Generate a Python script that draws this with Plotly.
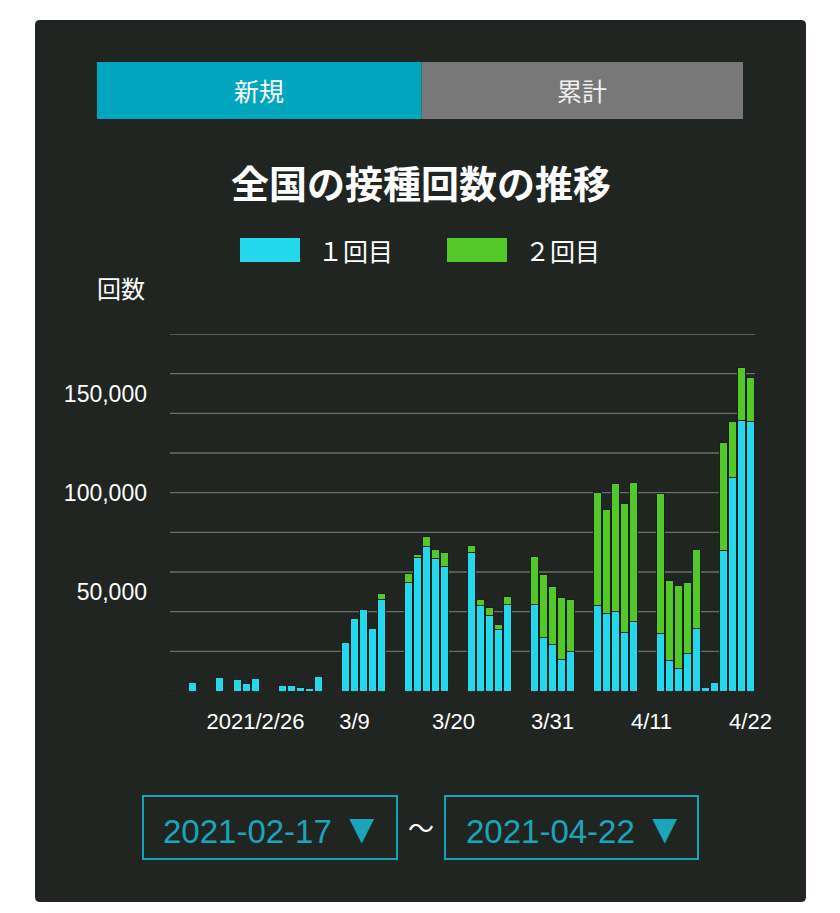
import plotly.graph_objects as go

# daily vaccinations (1st dose / 2nd dose)
dates = [
    "2021-02-17", "2021-02-19", "2021-02-22", "2021-02-24", "2021-02-25", "2021-02-26",
    "2021-03-01", "2021-03-02", "2021-03-03", "2021-03-04", "2021-03-05",
    "2021-03-08", "2021-03-09", "2021-03-10", "2021-03-11", "2021-03-12",
    "2021-03-15", "2021-03-16", "2021-03-17", "2021-03-18", "2021-03-19",
    "2021-03-22", "2021-03-23", "2021-03-24", "2021-03-25", "2021-03-26",
    "2021-03-29", "2021-03-30", "2021-03-31", "2021-04-01", "2021-04-02",
    "2021-04-05", "2021-04-06", "2021-04-07", "2021-04-08", "2021-04-09",
    "2021-04-12", "2021-04-13", "2021-04-14", "2021-04-15", "2021-04-16",
    "2021-04-17", "2021-04-18", "2021-04-19", "2021-04-20", "2021-04-21", "2021-04-22",
]
first_dose = [
    125, 4200, 6700, 5700, 3700, 6400,
    2900, 2700, 2000, 1500, 7100,
    24400, 36500, 41100, 31500, 46000,
    54700, 67200, 72900, 66800, 62800,
    69700, 43300, 38200, 31000, 43600,
    43600, 26800, 23700, 15700, 19700,
    43100, 39200, 40100, 29600, 35200,
    29100, 15500, 11400, 18900, 31300,
    2000, 4200, 71000, 107700, 136400, 136000,
]
second_dose = [
    0, 0, 0, 0, 0, 0,
    0, 0, 0, 0, 0,
    0, 0, 0, 700, 3000,
    4700, 1500, 5200, 4400, 7100,
    3900, 2900, 3700, 2700, 4000,
    24100, 32000, 28900, 31300, 26600,
    56900, 52200, 64500, 65000, 69700,
    70400, 40100, 41600, 36000, 40200,
    0, 0, 54400, 28100, 26800, 21900,
]

x_tick_dates = ["2021-02-26", "2021-03-09", "2021-03-20", "2021-03-31", "2021-04-11", "2021-04-22"]
x_tick_text = ["2021/2/26", "3/9", "3/20", "3/31", "4/11", "4/22"]
y_tick_vals = [50000, 100000, 150000]
grid_vals = list(range(20000, 200000, 20000))

CYAN = "#22d8ea"
GREEN = "#52c928"
PANEL = "#212522"
TEAL = "#00a6be"
JP = "Noto Sans CJK JP"
LAT = "Liberation Sans, Noto Sans CJK JP"

# plot area in pixels
L, R, T, B = 170, 755, 334, 691


def px(x):
    return (x - L) / (R - L)


def py(y):
    return (B - y) / (B - T)


def rounded_rect(x0, y0, x1, y1, r):
    # pixel box -> svg path in paper coords, with rounded corners
    X = lambda v: f"{px(v):.5f}"
    Y = lambda v: f"{py(v):.5f}"
    return (f"M {X(x0 + r)},{Y(y0)} L {X(x1 - r)},{Y(y0)} Q {X(x1)},{Y(y0)} {X(x1)},{Y(y0 + r)} "
            f"L {X(x1)},{Y(y1 - r)} Q {X(x1)},{Y(y1)} {X(x1 - r)},{Y(y1)} "
            f"L {X(x0 + r)},{Y(y1)} Q {X(x0)},{Y(y1)} {X(x0)},{Y(y1 - r)} "
            f"L {X(x0)},{Y(y0 + r)} Q {X(x0)},{Y(y0)} {X(x0 + r)},{Y(y0)} Z")


fig = go.Figure()
fig.add_trace(go.Bar(x=dates, y=first_dose, name="１回目", marker_color=CYAN,
                     marker_line=dict(color="#1b1e1c", width=1)))
fig.add_trace(go.Bar(x=dates, y=second_dose, name="２回目", marker_color=GREEN,
                     marker_line=dict(color="#1b1e1c", width=1)))

shapes = [
    # dark panel
    dict(type="path", xref="paper", yref="paper", layer="below",
         path=rounded_rect(35, 20, 806, 902, 5),
         fillcolor=PANEL, line=dict(width=0)),
    # tabs
    dict(type="rect", xref="paper", yref="paper", x0=px(97), x1=px(421.5),
         y0=py(119), y1=py(62), fillcolor=TEAL, line=dict(width=0)),
    dict(type="rect", xref="paper", yref="paper", x0=px(421.5), x1=px(743),
         y0=py(119), y1=py(62), fillcolor="#787878", line=dict(width=0)),
    # legend swatches
    dict(type="rect", xref="paper", yref="paper", x0=px(240), x1=px(300),
         y0=py(262), y1=py(238), fillcolor=CYAN, line=dict(width=0)),
    dict(type="rect", xref="paper", yref="paper", x0=px(447), x1=px(507),
         y0=py(262), y1=py(238), fillcolor=GREEN, line=dict(width=0)),
    # date pickers
    dict(type="rect", xref="paper", yref="paper", x0=px(143), x1=px(397),
         y0=py(859), y1=py(796), line=dict(color="#16a3b8", width=2)),
    dict(type="rect", xref="paper", yref="paper", x0=px(445), x1=px(698),
         y0=py(859), y1=py(796), line=dict(color="#16a3b8", width=2)),
]
for g in grid_vals:
    shapes.append(dict(type="line", xref="paper", yref="y", layer="below",
                       x0=0, x1=1, y0=g, y1=g,
                       line=dict(color="#6c6e6c", width=1.3)))

TRI = '<span style="font-size:42px">▼</span>'

annotations = [
    dict(text="新規", x=px(259), y=py(90), font=dict(family=JP, size=25, color="white")),
    dict(text="累計", x=px(582), y=py(90), font=dict(family=JP, size=25, color="#f0f0f0")),
    dict(text="<b>全国の接種回数の推移</b>", x=px(421), y=py(182),
         font=dict(family=JP, size=38, color="white")),
    dict(text="１回目", x=px(316), y=py(250), xanchor="left",
         font=dict(family=JP, size=25, color="white")),
    dict(text="２回目", x=px(523), y=py(250), xanchor="left",
         font=dict(family=JP, size=25, color="white")),
    dict(text="回数", x=px(147), y=py(287), xanchor="right",
         font=dict(family=JP, size=24, color="white")),
    dict(text="2021-02-17 " + TRI, x=px(273), y=py(828),
         font=dict(family=LAT, size=33, color="#1aa5bb")),
    dict(text="〜", x=px(421), y=py(826),
         font=dict(family=JP, size=26, color="white")),
    dict(text="2021-04-22 " + TRI, x=px(576), y=py(828),
         font=dict(family=LAT, size=33, color="#1aa5bb")),
]
for a in annotations:
    a.setdefault("xanchor", "center")
    a.update(xref="paper", yref="paper", yanchor="middle", showarrow=False)

fig.update_layout(
    width=840, height=913,
    margin=dict(l=L, r=840 - R, t=T, b=913 - B, pad=0),
    paper_bgcolor="white",
    plot_bgcolor=PANEL,
    barmode="stack",
    bargap=0.15,
    showlegend=False,
    shapes=shapes,
    annotations=annotations,
    xaxis=dict(
        type="date",
        range=["2021-02-16 12:00", "2021-04-22 12:00"],
        tickmode="array", tickvals=x_tick_dates, ticktext=x_tick_text,
        showgrid=False, zeroline=False, showline=False, ticks="",
        ticklabelstandoff=15,
        tickfont=dict(family=LAT, size=22, color="white"),
    ),
    yaxis=dict(
        range=[0, 180000],
        tickmode="array", tickvals=y_tick_vals, tickformat=",d",
        showgrid=False, zeroline=False, showline=False, ticks="",
        ticklabelstandoff=22,
        tickfont=dict(family=LAT, size=23, color="white"),
    ),
)

fig.write_html("out.html", config={"displayModeBar": False},
               post_script="document.body.style.margin='0';")
